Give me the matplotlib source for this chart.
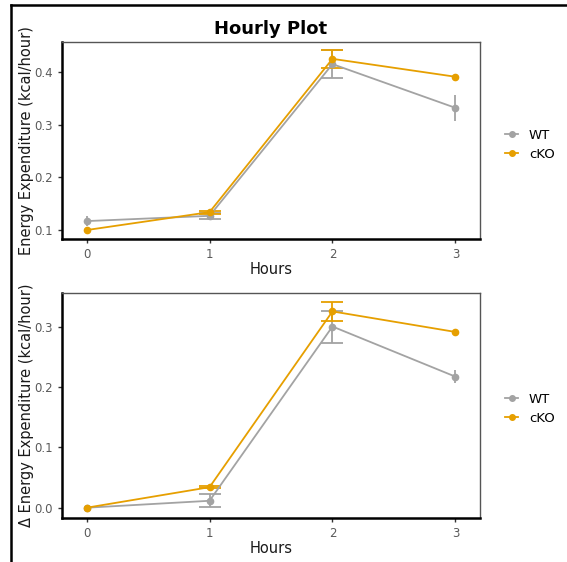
import matplotlib.pyplot as plt
import matplotlib.lines as mlines

hours = [0, 1, 2, 3]

# top panel: energy expenditure
wt_ee = [0.117, 0.127, 0.415, 0.332]
wt_ee_err = [0.010, 0.006, 0.026, 0.025]
cko_ee = [0.100, 0.134, 0.425, 0.391]
cko_ee_err = [0.001, 0.003, 0.017, 0.002]

# bottom panel: delta energy expenditure
wt_dee = [0.000, 0.0115, 0.300, 0.217]
wt_dee_err = [0.001, 0.011, 0.0265, 0.011]
cko_dee = [0.000, 0.034, 0.325, 0.291]
cko_dee_err = [0.001, 0.002, 0.016, 0.002]

groups = ["WT", "cKO"]
colors = ["#A3A3A3", "#E69F00"]
capped = [1, 2]  # hours where the error bars have caps

fig = plt.figure(figsize=(5.67, 5.62), dpi=100)
ax1 = fig.add_axes([62 / 567, 0.5747, 418 / 567, 0.3506])
ax2 = fig.add_axes([62 / 567, 0.0783, 418 / 567, 0.4009])


def draw(ax, series, ylim, yticks, ylabel):
    for (y, err), c in zip(series, colors):
        ax.plot(hours, y, color=c, lw=1.3, marker="o", ms=4.5, zorder=3)
        xc = [hours[i] for i in capped]
        ax.errorbar(xc, [y[i] for i in capped], yerr=[err[i] for i in capped],
                    fmt="none", ecolor=c, elinewidth=1.3, capsize=8, capthick=1.3, zorder=2)
        xn = [h for h in hours if h not in capped]
        ax.errorbar(xn, [y[i] for i in xn], yerr=[err[i] for i in xn],
                    fmt="none", ecolor=c, elinewidth=1.3, capsize=0, zorder=2)
    ax.set_xlim(-0.2, 3.2)
    ax.set_ylim(*ylim)
    ax.set_xticks(hours)
    ax.set_yticks(yticks)
    ax.set_yticklabels([f"{t:.1f}" for t in yticks])
    ax.tick_params(colors="#333333", labelcolor="#5a5a5a", labelsize=8.5, length=3, width=1)
    ax.set_xlabel("Hours", fontsize=10.5, color="#1a1a1a", labelpad=1)
    ax.set_ylabel(ylabel, fontsize=10.5, color="#1a1a1a", labelpad=0.5)
    for s in ["top", "right"]:
        ax.spines[s].set_color("#555555")
        ax.spines[s].set_linewidth(1.0)
    for s in ["left", "bottom"]:
        ax.spines[s].set_color("black")
        ax.spines[s].set_linewidth(1.8)


draw(ax1, [(wt_ee, wt_ee_err), (cko_ee, cko_ee_err)], (0.083, 0.457),
     [0.1, 0.2, 0.3, 0.4], "Energy Expenditure (kcal/hour)")
draw(ax2, [(wt_dee, wt_dee_err), (cko_dee, cko_dee_err)], (-0.017, 0.356),
     [0.0, 0.1, 0.2, 0.3], "Δ Energy Expenditure (kcal/hour)")
ax1.set_title("Hourly Plot", fontsize=13, fontweight="bold", pad=6)

handles = [mlines.Line2D([], [], color=c, marker="o", ms=4, lw=1.3) for c in colors]
for yc in [0.742, 0.273]:
    fig.legend(handles, groups, loc="center left", bbox_to_anchor=(505 / 567, yc),
               frameon=False, fontsize=9.5, handlelength=1.0, handletextpad=0.8,
               labelspacing=0.45, borderpad=0, borderaxespad=0)

# black frame of the screenshot (top and left)
fig.add_artist(mlines.Line2D([11 / 567, 1], [1 - 5 / 562, 1 - 5 / 562], color="black", lw=1.8))
fig.add_artist(mlines.Line2D([11 / 567, 11 / 567], [0, 1 - 5 / 562], color="black", lw=1.8))

fig.savefig("out.png", dpi=100)
